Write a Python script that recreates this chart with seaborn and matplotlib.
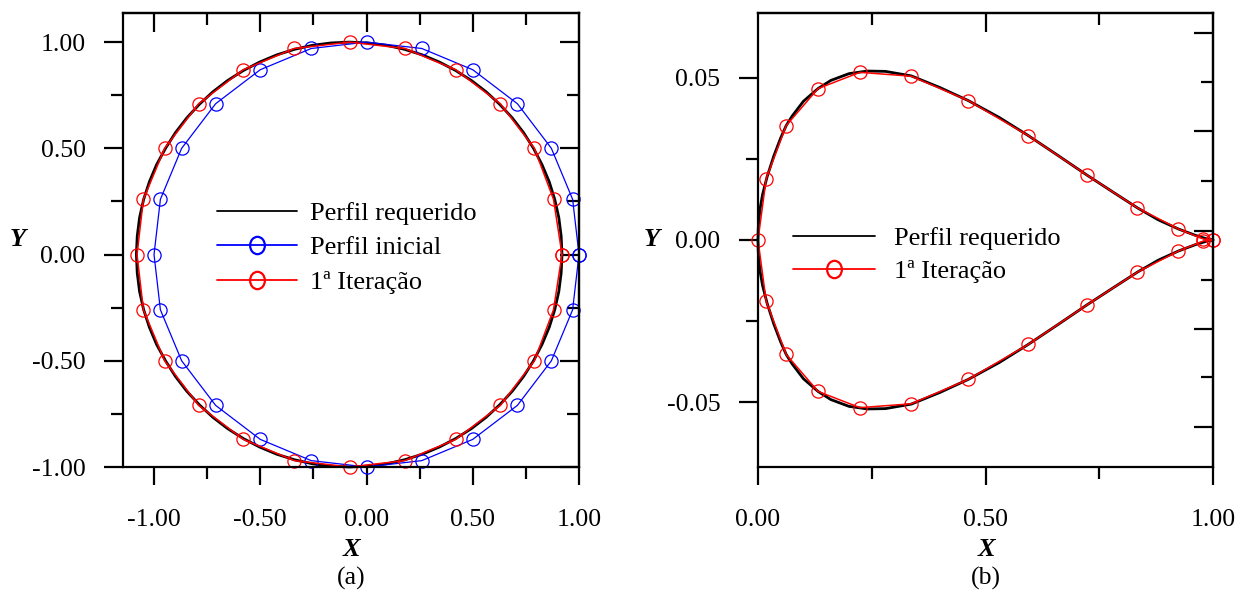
import numpy as np
import pandas as pd
import matplotlib
matplotlib.use('Agg')
import matplotlib.pyplot as plt
import seaborn as sns
from matplotlib.lines import Line2D
from matplotlib.path import Path
from matplotlib.transforms import Affine2D
from matplotlib.ticker import FormatStrFormatter

# ---- panel (a): circle ----
a_req_x = [0.92, 0.916, 0.905, 0.886, 0.86, 0.826, 0.786, 0.739, 0.686, 0.627, 0.563, 0.494, 0.42,
           0.343, 0.262, 0.179, 0.094, 0.007, -0.08, -0.167, -0.254, -0.339, -0.422, -0.503, -0.58,
           -0.654, -0.723, -0.787, -0.846, -0.899, -0.946, -0.988, -1.022, -1.049, -1.068, -1.079,
           -1.083,
           -1.079, -1.068, -1.049, -1.022, -0.988, -0.946, -0.899, -0.846, -0.787, -0.723, -0.654,
           -0.58, -0.503, -0.422, -0.339, -0.254, -0.167, -0.08, 0.007, 0.094, 0.179, 0.262, 0.343,
           0.42, 0.494, 0.563, 0.627, 0.686, 0.739, 0.786, 0.826, 0.86, 0.886, 0.905, 0.916, 0.92]
a_req_y = [0.0, 0.087, 0.174, 0.259, 0.342, 0.423, 0.5, 0.574, 0.643, 0.707, 0.766, 0.819, 0.866,
           0.906, 0.94, 0.966, 0.985, 0.996, 1.0, 0.996, 0.985, 0.966, 0.94, 0.906, 0.866,
           0.819, 0.766, 0.707, 0.643, 0.574, 0.5, 0.423, 0.342, 0.259, 0.174, 0.087,
           0.0,
           -0.087, -0.174, -0.259, -0.342, -0.423, -0.5, -0.574, -0.643, -0.707, -0.766, -0.819,
           -0.866, -0.906, -0.94, -0.966, -0.985, -0.996, -1.0, -0.996, -0.985, -0.966, -0.94, -0.906,
           -0.866, -0.819, -0.766, -0.707, -0.643, -0.574, -0.5, -0.423, -0.342, -0.259, -0.174,
           -0.087, 0.0]

a_ini_x = [1.00, 0.97, 0.87, 0.71, 0.50, 0.26, 0.00, -0.26, -0.50, -0.71, -0.87, -0.97, -1.00,
           -0.97, -0.87, -0.71, -0.50, -0.26, 0.00, 0.26, 0.50, 0.71, 0.87, 0.97, 1.00]
a_ini_y = [0.00, 0.26, 0.50, 0.71, 0.87, 0.97, 1.00, 0.97, 0.87, 0.71, 0.50, 0.26, 0.00,
           -0.26, -0.50, -0.71, -0.87, -0.97, -1.00, -0.97, -0.87, -0.71, -0.50, -0.26, 0.00]

a_it1_x = [0.92, 0.88, 0.79, 0.63, 0.42, 0.18, -0.08, -0.34, -0.58, -0.79, -0.95, -1.05, -1.08,
           -1.05, -0.95, -0.79, -0.58, -0.34, -0.08, 0.18, 0.42, 0.63, 0.79, 0.88, 0.92]
a_it1_y = [0.00, 0.26, 0.50, 0.71, 0.87, 0.97, 1.00, 0.97, 0.87, 0.71, 0.50, 0.26, 0.00,
           -0.26, -0.50, -0.71, -0.87, -0.97, -1.00, -0.97, -0.87, -0.71, -0.50, -0.26, 0.00]

# ---- panel (b): symmetric profile ----
b_req_x = [1.0, 0.985, 0.96, 0.924, 0.88, 0.834, 0.78, 0.722, 0.66, 0.594, 0.53, 0.462, 0.4, 0.337,
           0.28, 0.24, 0.2, 0.16, 0.132, 0.1, 0.075, 0.062, 0.05, 0.035, 0.02, 0.01, 0.005, 0.002,
           0.0005, 0.0,
           0.0005, 0.002, 0.005, 0.01, 0.02, 0.035, 0.05, 0.062, 0.075, 0.1, 0.132, 0.16, 0.2, 0.24,
           0.28, 0.337, 0.4, 0.462, 0.53, 0.594, 0.66, 0.722, 0.78, 0.834, 0.88, 0.924, 0.96, 0.985, 1.0]
b_req_y = [0.0, 0.0004, 0.0015, 0.0034, 0.0062, 0.0099, 0.0148, 0.0201, 0.026, 0.0322, 0.0378,
           0.043, 0.047, 0.0506, 0.052, 0.0521, 0.0513, 0.0492, 0.0467, 0.0428, 0.0382, 0.0353,
           0.0315, 0.026, 0.0195, 0.014, 0.010, 0.0065, 0.0033, 0.0,
           -0.0033, -0.0065, -0.010, -0.014, -0.0195, -0.026, -0.0315, -0.0353, -0.0382, -0.0428,
           -0.0467, -0.0492, -0.0513, -0.0521, -0.052, -0.0506, -0.047, -0.043, -0.0378, -0.0322,
           -0.026, -0.0201, -0.0148, -0.0099, -0.0062, -0.0034, -0.0015, -0.0004, 0.0]

b_it1_x = [1.0, 0.979, 0.924, 0.834, 0.722, 0.594, 0.462, 0.337, 0.224, 0.132, 0.062, 0.018, 0.0,
           0.018, 0.062, 0.132, 0.224, 0.337, 0.462, 0.594, 0.722, 0.834, 0.924, 0.979, 1.0]
b_it1_y = [0.0, 0.0003, 0.0034, 0.0099, 0.0201, 0.0322, 0.043, 0.0505, 0.0517, 0.0467, 0.0353,
           0.0189, 0.0, -0.0189, -0.0353, -0.0467, -0.0517, -0.0505, -0.043, -0.0322, -0.0201,
           -0.0099, -0.0034, -0.0003, 0.0]

# odd right-hand ticks of panel (b), as drawn in the original
b_right_major = [0.0638, 0.0335, 0.0029, -0.0273, -0.0577]
b_right_minor = [0.0487, 0.0182, -0.0123, -0.0424]

labels_a = ['Perfil requerido', 'Perfil inicial', '1ª Iteração']
labels_b = ['Perfil requerido', '1ª Iteração']

sns.set_theme(style='ticks')
plt.rcParams['font.family'] = ['Liberation Serif', 'DejaVu Serif']
plt.rcParams['axes.unicode_minus'] = False
plt.rcParams['axes.linewidth'] = 1.6
for k in ['text.color', 'axes.labelcolor', 'xtick.color', 'ytick.color', 'axes.edgecolor']:
    plt.rcParams[k] = 'black'

FS = 18.5
LFS = 19
ell = Path.unit_circle().transformed(Affine2D().scale(0.85, 1.0))


def draw(ax, x, y, color, lw, mark=False):
    df = pd.DataFrame({'x': x, 'y': y})
    kw = dict(marker='o', markersize=9.5, markerfacecolor='none',
              markeredgecolor=color, markeredgewidth=0.9) if mark else {}
    sns.lineplot(data=df, x='x', y='y', sort=False, estimator=None, color=color,
                 lw=lw, ax=ax, clip_on=False, **kw)


def style_ticks(ax, xmaj, xmin, ymaj, ymin, top_maj, top_min, right_maj, right_min):
    ax.set_xticks(xmaj)
    ax.set_xticks(xmin, minor=True)
    ax.set_yticks(ymaj)
    ax.set_yticks(ymin, minor=True)
    ax.tick_params(which='major', direction='out', length=14, width=1.6,
                   labelsize=FS, pad=13, colors='black')
    ax.tick_params(which='minor', direction='out', length=8.5, width=1.6, colors='black')
    ax.tick_params(axis='x', which='major', length=13, pad=17)
    for s in ax.spines.values():
        s.set_color('black')
        s.set_linewidth(1.6)
    top = ax.secondary_xaxis('top')
    top.set_xticks(top_maj)
    top.set_xticks(top_min, minor=True)
    top.tick_params(which='both', direction='in', labeltop=False, width=1.6, colors='black')
    top.tick_params(which='major', length=14)
    top.tick_params(which='minor', length=8.5)
    right = ax.secondary_yaxis('right')
    right.set_yticks(right_maj)
    right.set_yticks(right_min, minor=True)
    right.tick_params(which='both', direction='in', labelright=False, width=1.6, colors='black')
    right.tick_params(which='major', length=14)
    right.tick_params(which='minor', length=9)
    ax.set_xlabel('')
    ax.set_ylabel('')


def marker_handle(color):
    return Line2D([], [], color=color, lw=1.3, marker=ell, markersize=12.5,
                  markerfacecolor='none', markeredgecolor=color, markeredgewidth=1.6)


fig = plt.figure(figsize=(12.47, 5.95), dpi=100)
ax1 = fig.add_axes([123 / 1247, 1 - 467 / 595, 456 / 1247, 454 / 595])
ax2 = fig.add_axes([758 / 1247, 1 - 467 / 595, 455 / 1247, 454 / 595])

# panel (a)
draw(ax1, a_req_x, a_req_y, 'black', 2.0)
draw(ax1, a_ini_x, a_ini_y, 'blue', 0.9, mark=True)
draw(ax1, a_it1_x, a_it1_y, 'red', 1.1, mark=True)
ax1.set_xlim(-1.146, 1.0)
ax1.set_ylim(-1.0, 1.137)
style_ticks(ax1, [-1, -0.5, 0, 0.5, 1], [-0.75, -0.25, 0.25, 0.75],
            [-1, -0.5, 0, 0.5, 1], [-0.75, -0.25, 0.25, 0.75],
            [-1, -0.5, 0, 0.5], [-0.75, -0.25, 0.25, 0.75],
            [-1, -0.5, 0, 0.5, 1], [-0.75, -0.25, 0.25, 0.75])
ax1.xaxis.set_major_formatter(FormatStrFormatter('%.2f'))
ax1.yaxis.set_major_formatter(FormatStrFormatter('%.2f'))

handles_a = [Line2D([], [], color='black', lw=1.3), marker_handle('blue'), marker_handle('red')]
ax1.legend(handles_a, labels_a, loc='upper left', bbox_to_anchor=(0.206, 0.585),
           frameon=False, fontsize=LFS, handlelength=3.03, handletextpad=0.5,
           labelspacing=0.42, borderpad=0, borderaxespad=0)

# panel (b)
draw(ax2, b_req_x, b_req_y, 'black', 2.0)
draw(ax2, b_it1_x, b_it1_y, 'red', 1.1, mark=True)
ax2.set_xlim(0.0, 1.0)
ax2.set_ylim(-0.07, 0.07)
style_ticks(ax2, [0, 0.5, 1], [0.25, 0.75],
            [-0.05, 0, 0.05], [-0.025, 0.025],
            [0.5], [0.25, 0.75],
            b_right_major, b_right_minor)
ax2.xaxis.set_major_formatter(FormatStrFormatter('%.2f'))
ax2.yaxis.set_major_formatter(FormatStrFormatter('%.2f'))

handles_b = [Line2D([], [], color='black', lw=1.3), marker_handle('red')]
ax2.legend(handles_b, labels_b, loc='upper left', bbox_to_anchor=(0.077, 0.53),
           frameon=False, fontsize=LFS, handlelength=3.1, handletextpad=0.72,
           labelspacing=0.36, borderpad=0, borderaxespad=0)

# axis names and panel captions
lab = dict(fontsize=19, fontweight='bold', fontstyle='italic', ha='center', va='center')
fig.text(351 / 1247, 1 - 549 / 595, 'X', **lab)
fig.text(18 / 1247, 1 - 240 / 595, 'Y', **lab)
fig.text(986 / 1247, 1 - 549 / 595, 'X', **lab)
fig.text(652 / 1247, 1 - 240 / 595, 'Y', **lab)
fig.text(351 / 1247, 1 - 578 / 595, '(a)', fontsize=FS, ha='center', va='center')
fig.text(986 / 1247, 1 - 578 / 595, '(b)', fontsize=FS, ha='center', va='center')

fig.savefig('out.png', dpi=100, facecolor='white')
